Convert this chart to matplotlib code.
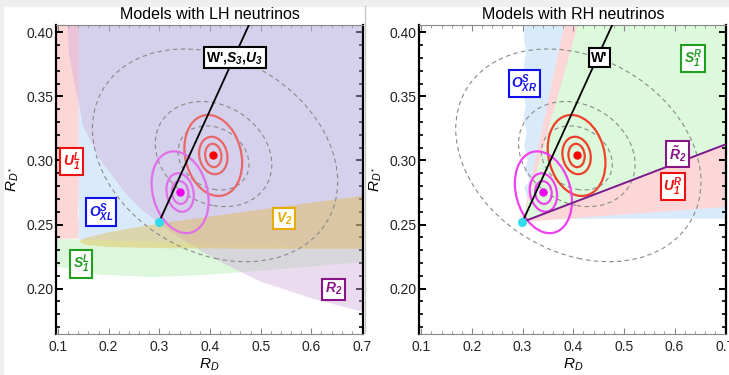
import numpy as np
import matplotlib
matplotlib.use('Agg')
import matplotlib.pyplot as plt
from matplotlib.patches import Ellipse, Rectangle
from matplotlib.transforms import Affine2D
from matplotlib.ticker import MultipleLocator
from matplotlib.lines import Line2D

plt.rcParams['font.family'] = ['Liberation Sans', 'DejaVu Sans']
plt.rcParams['mathtext.fontset'] = 'custom'
plt.rcParams['mathtext.rm'] = 'Liberation Sans'
plt.rcParams['mathtext.it'] = 'Liberation Sans:italic'
plt.rcParams['mathtext.bf'] = 'Liberation Sans:italic:bold'

# measured points and SM prediction (R_D, R_D*)
sm_point = [0.2996, 0.252]
fit_centre = [0.4065, 0.3039]
belle_centre = [0.341, 0.2752]

# contour ellipses: cx, cy, half width in x, half width in y, correlation
dashed_ell = [[0.410, 0.304, 0.242, 0.083, -0.25],
              [0.407, 0.305, 0.115, 0.041, -0.20],
              [0.407, 0.302, 0.070, 0.025, -0.20]]
red_ell = [[0.4065, 0.3039, 0.057, 0.0316, -0.18],
           [0.4065, 0.3039, 0.028, 0.0146, -0.12],
           [0.4065, 0.3039, 0.0161, 0.0091, -0.08]]
mag_ell = [[0.341, 0.2752, 0.0563, 0.0319, -0.22],
           [0.341, 0.2750, 0.027, 0.0150, -0.15],
           [0.341, 0.2750, 0.0164, 0.0089, -0.08]]

# W' line (both panels)
wline_x = [0.2996, 0.480]
wline_y = [0.252, 0.4085]

# left panel regions
u1l_x = [0.09, 0.141, 0.141, 0.139, 0.142, 0.140, 0.09]
u1l_y = [0.41, 0.41, 0.27, 0.26, 0.25, 0.239, 0.239]
oxl_x = [0.141, 0.141, 0.72, 0.72]
oxl_y = [0.41, 0.2365, 0.2312, 0.41]
s1l_x = [0.09, 0.72, 0.72, 0.703, 0.512, 0.380, 0.282, 0.183, 0.097, 0.09]
s1l_y = [0.239, 0.2312, 0.2215, 0.2208, 0.2143, 0.2104, 0.2091, 0.2109, 0.2174, 0.218]
r2_x = [0.119, 0.121, 0.130, 0.142, 0.1488, 0.1816, 0.2309, 0.2703, 0.323,
        0.3856, 0.44, 0.50, 0.60, 0.72, 0.72]
r2_y = [0.41, 0.385, 0.365, 0.343, 0.3276, 0.3016, 0.2755, 0.2599, 0.2442,
        0.2286, 0.2170, 0.2055, 0.1925, 0.180, 0.41]
v2_x = [0.142, 0.150, 0.162, 0.20, 0.29, 0.49, 0.72, 0.72, 0.49, 0.30, 0.20, 0.162, 0.150]
v2_y = [0.2367, 0.2390, 0.2403, 0.2440, 0.2502, 0.2612, 0.2734, 0.2312, 0.2311,
        0.2316, 0.2325, 0.2338, 0.2347]

# right panel regions
oxr_x = [0.305, 0.302, 0.307, 0.302, 0.305, 0.301, 0.306, 0.302, 0.308, 0.303,
         0.310, 0.304, 0.315, 0.303, 0.308, 0.318, 0.33, 0.36, 0.40, 0.72, 0.72]
oxr_y = [0.41, 0.395, 0.385, 0.3745, 0.364, 0.3536, 0.343, 0.333, 0.3224, 0.311,
         0.30, 0.292, 0.285, 0.279, 0.272, 0.267, 0.262, 0.257, 0.2545, 0.2545, 0.41]
u1r_x = [0.2996, 0.3845, 0.72, 0.72]
u1r_y = [0.252, 0.41, 0.41, 0.2643]
s1r_x = [0.2996, 0.412, 0.72, 0.72]
s1r_y = [0.252, 0.41, 0.41, 0.3155]
r2t_x = [0.2996, 0.72]
r2t_y = [0.252, 0.3155]

left_labels = [("W',$\\mathbf{S_3}$,$\\mathbf{U_3}$", 0.4487, 0.3802, 'black'),
               ('$\\mathbf{U_1^L}$', 0.1263, 0.2992, '#ee1111'),
               ('$\\mathbf{O_{XL}^S}$', 0.1849, 0.2596, '#1010ee'),
               ('$\\mathbf{V_2}$', 0.5466, 0.2547, '#e6aa00'),
               ('$\\mathbf{S_1^L}$', 0.146, 0.2191, '#20a020'),
               ('$\\mathbf{R_2}$', 0.6433, 0.1995, '#881488')]
right_labels = [("W'", 0.4513, 0.3803, 'black'),
                ('$\\mathbf{S_1^R}$', 0.6364, 0.3797, '#20a020'),
                ('$\\mathbf{O_{XR}^S}$', 0.3039, 0.3599, '#1010ee'),
                ('$\\mathbf{\\tilde{R}_2}$', 0.6056, 0.3052, '#881488'),
                ('$\\mathbf{U_1^R}$', 0.5963, 0.2797, '#ee1111')]


def cov_ellipse(ax, e, **kw):
    cx, cy, sx, sy, rho = e
    m = Affine2D.from_values(sx, rho * sy, 0, sy * np.sqrt(1 - rho ** 2), cx, cy)
    ax.add_patch(Ellipse((0, 0), 2, 2, transform=m + ax.transData, fill=False, **kw))


def common(ax, title, red_c, mag_c, labels):
    for e in dashed_ell:
        cov_ellipse(ax, e, ec='#8a8a8a', lw=0.8, ls=(0, (4, 3)), zorder=3)
    for e in red_ell:
        cov_ellipse(ax, e, ec=red_c, lw=1.6, zorder=4)
    for e in mag_ell:
        cov_ellipse(ax, e, ec=mag_c, lw=1.6, zorder=4)
    ax.plot(wline_x, wline_y, color='black', lw=1.3, zorder=5)
    ax.plot(*fit_centre, 'o', color='#ff0000', ms=5, zorder=6)
    ax.plot(*belle_centre, 'o', color='#ee00ee', ms=5, zorder=6)
    ax.plot(*sm_point, 'o', color='#30dcee', ms=5.5, zorder=7)
    for txt, x, y, c in labels:
        ax.text(x, y, txt, color=c, fontsize=10, fontweight='bold', ha='center', va='center',
                zorder=8, bbox=dict(boxstyle='square,pad=0.18', fc='white', ec=c, lw=1.5))
    ax.set_xlim(0.0961, 0.702)
    ax.set_ylim(0.1646, 0.4057)
    ax.xaxis.set_major_locator(MultipleLocator(0.1))
    ax.xaxis.set_minor_locator(MultipleLocator(0.02))
    ax.yaxis.set_major_locator(MultipleLocator(0.05))
    ax.yaxis.set_minor_locator(MultipleLocator(0.01))
    ax.set_xticks([0.1, 0.2, 0.3, 0.4, 0.5, 0.6, 0.7])
    ax.set_xticklabels(['0.1', '0.2', '0.3', '0.4', '0.5', '0.6', '0.7'])
    ax.set_yticks([0.20, 0.25, 0.30, 0.35, 0.40])
    ax.set_yticklabels(['0.20', '0.25', '0.30', '0.35', '0.40'])
    ax.tick_params(which='both', direction='in', top=True, right=True, labelsize=10,
                   colors='#222222')
    ax.tick_params(axis='x', which='major', length=4, width=0.8, color='#888888', pad=4)
    ax.tick_params(axis='x', which='minor', length=2.5, width=0.6, color='#888888')
    ax.tick_params(axis='y', which='major', length=5, width=1.4, color='black', pad=2)
    ax.tick_params(axis='y', which='minor', length=3, width=1.2, color='black')
    for s in ['left', 'right']:
        ax.spines[s].set_linewidth(1.6)
        ax.spines[s].set_color('black')
    for s in ['top', 'bottom']:
        ax.spines[s].set_linewidth(0.8)
        ax.spines[s].set_color('#888888')
    ax.set_xlabel('$R_D$', fontsize=11, labelpad=2)
    ax.set_ylabel('$R_{D^*}$', fontsize=11, labelpad=4)
    ax.set_title(title, fontsize=11.5, pad=4)


fig = plt.figure(figsize=(7.29, 3.75), dpi=100)
fig.patches.append(Rectangle((0, 1 - 6 / 375), 1, 6 / 375, transform=fig.transFigure,
                             color='#efefef', zorder=0))
fig.patches.append(Rectangle((0, 0), 3 / 729, 1, transform=fig.transFigure,
                             color='#efefef', zorder=0))
fig.lines.append(Line2D([365 / 729, 365 / 729], [42 / 375, 1 - 6 / 375],
                        transform=fig.transFigure, color='#c8c8c8', lw=1))

ax1 = fig.add_axes([56 / 729, 41 / 375, 307 / 729, 309 / 375])
ax2 = fig.add_axes([419.3 / 729, 41 / 375, 307 / 729, 309 / 375])

# left panel
ax1.fill(u1l_x, u1l_y, color='#fdd6d6', lw=0, zorder=1)
ax1.fill(oxl_x, oxl_y, color='#d9ebfb', lw=0, zorder=1)
ax1.fill(s1l_x, s1l_y, color='#dcf7dc', lw=0, zorder=1)
ax1.fill(r2_x, r2_y, color=(209 / 255, 175 / 255, 219 / 255), alpha=0.44, lw=0, zorder=2)
ax1.fill(v2_x, v2_y, color=(226 / 255, 184 / 255, 60 / 255), alpha=0.4, lw=0, zorder=2)
common(ax1, 'Models with LH neutrinos', '#e86868', '#e070e8', left_labels)

# right panel
ax2.fill(oxr_x, oxr_y, color='#d9ebfb', lw=0, zorder=1)
ax2.fill(u1r_x, u1r_y, color='#fdd7d7', lw=0, zorder=1)
ax2.fill(s1r_x, s1r_y, color='#dcf9dc', lw=0, zorder=1)
ax2.plot(r2t_x, r2t_y, color='#7b1a8c', lw=1.4, zorder=5)
common(ax2, 'Models with RH neutrinos', '#f0402c', '#f040f0', right_labels)

fig.savefig('out.png', dpi=100)
